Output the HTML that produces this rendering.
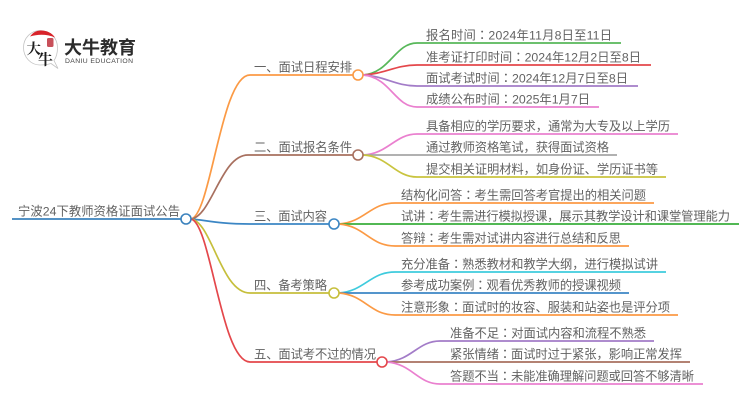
<!DOCTYPE html>
<html><head><meta charset="utf-8">
<style>
html,body{margin:0;padding:0;background:#fff;width:750px;height:410px;overflow:hidden}
svg{display:block}
text{font-family:"Liberation Sans","Noto Sans CJK SC",sans-serif}
.t{font-size:12.3px;fill:#626262}
.c{font-family:"Noto Sans CJK TC",sans-serif}
.l{fill:none;stroke-width:1.7}
.n{fill:#fff;stroke-width:1.6}
</style></head><body>
<svg width="750" height="410" viewBox="0 0 750 410" xmlns="http://www.w3.org/2000/svg">
<!-- logo -->
<path d="M40 30.500C31 30.500 23.500 38 23.500 47.500C23.500 57.500 31 65 40 65C44 65 48 64.500 51 63.500L58 68.500L54 60.500C57 56.500 57.500 52.500 57.500 47.500C57.500 38 50 30.500 40 30.500Z" fill="#fff" stroke="#c4c4c4" stroke-width="0.8"/>
<path d="M30 36.500C33 32.500 36 30.500 41 30.500C47 30.500 52 33 55 37.500C47 34 38 34 30 36.500Z" fill="#d8232a"/>
<rect x="47" y="38" width="6.500" height="9" rx="1.500" fill="#c8505a"/>
<text x="26.500" y="54" font-size="14.500" fill="#1c1c1c" style="font-family:'Liberation Serif','Noto Serif CJK SC',serif" font-weight="700">大</text>
<text x="38" y="64.500" font-size="15" fill="#1c1c1c" style="font-family:'Liberation Serif','Noto Serif CJK SC',serif" font-weight="700">牛</text>
<text x="64" y="54" font-size="18" font-weight="700" fill="#2b2b2b" textLength="72" lengthAdjust="spacing">大牛教育</text>
<text x="65" y="63" font-size="6.800" fill="#444" textLength="68" lengthAdjust="spacing">DANIU EDUCATION</text>

<!-- root -->
<path class="l" d="M12 219H181" stroke="#3b82bd"/>
<!-- branches -->
<path class="l" d="M191 219C211 215 221 75 250 75H353" stroke="#fb9a45"/>
<path class="l" d="M191 219C212 216 221 155 248 155H353" stroke="#a8705f"/>
<path class="l" d="M191 219C205 220 218 224 250 224H329" stroke="#3b86c4"/>
<path class="l" d="M191 219C212 222 221 293 250 293H329" stroke="#c6bf3c"/>
<path class="l" d="M191 219C211 223 221 362 250 362H377" stroke="#e4474b"/>
<!-- b1 leaves -->
<path class="l" d="M363 75C390 73 395 43 417 43H621" stroke="#58b85a"/>
<path class="l" d="M363 75C385 74 395 65 417 65H651" stroke="#e4474b"/>
<path class="l" d="M363 75C385 76 395 86 417 86H638" stroke="#a37cc8"/>
<path class="l" d="M363 75C390 77 395 107 417 107H599" stroke="#ea80cf"/>
<!-- b2 leaves -->
<path class="l" d="M363 155C388 154 395 134 417 134H678" stroke="#ea80cf"/>
<path class="l" d="M363 155H617" stroke="#a6a6a6"/>
<path class="l" d="M363 155C388 156 395 177 417 177H666" stroke="#c9c43f"/>
<!-- b3 leaves -->
<path class="l" d="M339 224C365 222 370 203 395 203H654" stroke="#fb9a45"/>
<path class="l" d="M339 224H739" stroke="#3aae3c"/>
<path class="l" d="M339 224C365 226 370 246 395 246H629" stroke="#fb9a45"/>
<!-- b4 leaves -->
<path class="l" d="M339 293C365 291 370 272 395 272H666" stroke="#3fcbdd"/>
<path class="l" d="M339 293H629" stroke="#3b86c4"/>
<path class="l" d="M339 293C365 295 370 315 395 315H678" stroke="#fb9a45"/>
<!-- b5 leaves -->
<path class="l" d="M387 362C412 360 418 341 440 341H654" stroke="#a37cc8"/>
<path class="l" d="M387 362H690" stroke="#a8705f"/>
<path class="l" d="M387 362C412 364 418 384 440 384H703" stroke="#ea80cf"/>
<!-- nodes -->
<circle class="n" cx="186" cy="219" r="5" stroke="#3b82bd"/>
<circle class="n" cx="358" cy="75" r="5" stroke="#fb9a45"/>
<circle class="n" cx="358" cy="155" r="5" stroke="#a8705f"/>
<circle class="n" cx="334" cy="224" r="5" stroke="#3b86c4"/>
<circle class="n" cx="334" cy="293" r="5" stroke="#c6bf3c"/>
<circle class="n" cx="382" cy="362" r="5" stroke="#e4474b"/>
<!-- labels -->
<text class="t" x="18" y="215.500" textLength="162" lengthAdjust="spacing">宁波24下教师资格证面试公告</text>
<text class="t" x="254" y="71.500" textLength="98" lengthAdjust="spacing">一、面试日程安排</text>
<text class="t" x="254" y="151.500" textLength="98" lengthAdjust="spacing">二、面试报名条件</text>
<text class="t" x="254" y="220.500" textLength="73" lengthAdjust="spacing">三、面试内容</text>
<text class="t" x="254" y="289.500" textLength="73" lengthAdjust="spacing">四、备考策略</text>
<text class="t" x="254" y="358.500" textLength="122" lengthAdjust="spacing">五、面试考不过的情况</text>

<text class="t" x="426" y="39.500" textLength="186" lengthAdjust="spacing">报名时间<tspan class="c">：</tspan>2024年11月8日至11日</text>
<text class="t" x="426" y="61.500" textLength="215" lengthAdjust="spacing">准考证打印时间<tspan class="c">：</tspan>2024年12月2日至8日</text>
<text class="t" x="426" y="82.500" textLength="202" lengthAdjust="spacing">面试考试时间<tspan class="c">：</tspan>2024年12月7日至8日</text>
<text class="t" x="426" y="103.500" textLength="164" lengthAdjust="spacing">成绩公布时间<tspan class="c">：</tspan>2025年1月7日</text>

<text class="t" x="426" y="130.500" textLength="244" lengthAdjust="spacing">具备相应的学历要求，通常为大专及以上学历</text>
<text class="t" x="426" y="151.500" textLength="183" lengthAdjust="spacing">通过教师资格笔试，获得面试资格</text>
<text class="t" x="426" y="173.500" textLength="232" lengthAdjust="spacing">提交相关证明材料，如身份证、学历证书等</text>

<text class="t" x="401" y="199.500" textLength="245" lengthAdjust="spacing">结构化问答<tspan class="c">：</tspan>考生需回答考官提出的相关问题</text>
<text class="t" x="401" y="220.500" textLength="329" lengthAdjust="spacing">试讲<tspan class="c">：</tspan>考生需进行模拟授课，展示其教学设计和课堂管理能力</text>
<text class="t" x="401" y="242.500" textLength="220" lengthAdjust="spacing">答辩<tspan class="c">：</tspan>考生需对试讲内容进行总结和反思</text>

<text class="t" x="401" y="268.500" textLength="257" lengthAdjust="spacing">充分准备<tspan class="c">：</tspan>熟悉教材和教学大纲，进行模拟试讲</text>
<text class="t" x="401" y="289.500" textLength="220" lengthAdjust="spacing">参考成功案例<tspan class="c">：</tspan>观看优秀教师的授课视频</text>
<text class="t" x="401" y="311.500" textLength="269" lengthAdjust="spacing">注意形象<tspan class="c">：</tspan>面试时的妆容、服装和站姿也是评分项</text>

<text class="t" x="450" y="337.500" textLength="196" lengthAdjust="spacing">准备不足<tspan class="c">：</tspan>对面试内容和流程不熟悉</text>
<text class="t" x="450" y="358.500" textLength="232" lengthAdjust="spacing">紧张情绪<tspan class="c">：</tspan>面试时过于紧张，影响正常发挥</text>
<text class="t" x="450" y="380.500" textLength="244" lengthAdjust="spacing">答题不当<tspan class="c">：</tspan>未能准确理解问题或回答不够清晰</text>
</svg>
</body></html>
